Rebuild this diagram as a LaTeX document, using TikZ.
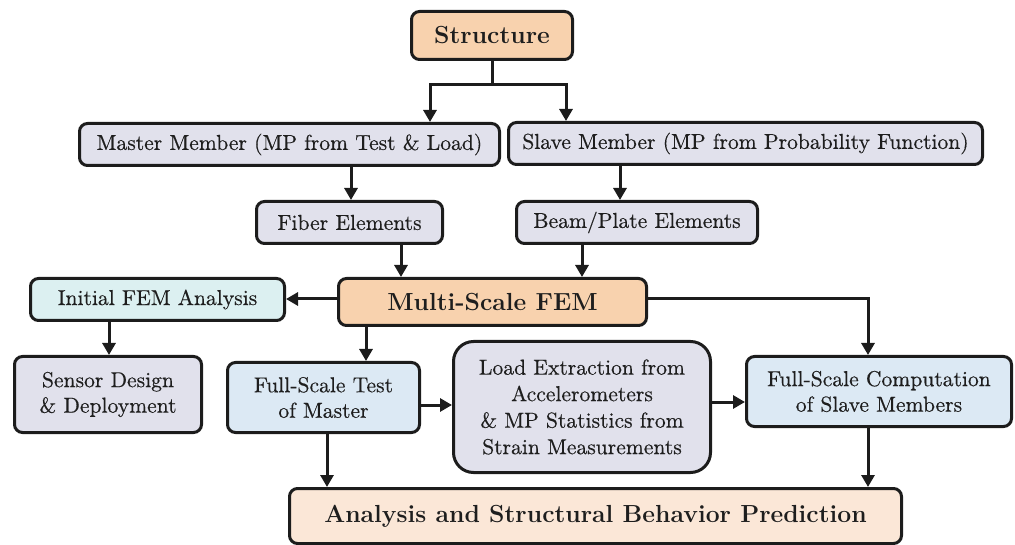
\documentclass[tikz,border=0pt]{standalone}
\usepackage{fontspec}
\newfontfamily\regfont{lmroman10-regular}[Extension=.otf, FakeBold=0.4]
\usetikzlibrary{arrows.meta,calc}
\definecolor{peach}{HTML}{F8D2AE}
\definecolor{peachlt}{HTML}{FBE7D7}
\definecolor{lav}{HTML}{E1E1EC}
\definecolor{cyanlt}{HTML}{DCF0F1}
\definecolor{bluelt}{HTML}{DCE9F4}
\definecolor{edge}{HTML}{1C1C1C}
\definecolor{txt}{HTML}{1E1E1E}
\tikzset{
  box/.style={draw=edge, line width=3pt, rounded corners=8pt, inner sep=0pt, align=center, text=txt, font=\regfont\fontsize{21.6}{25.5}\selectfont},
  boldbox/.style={box, font=\fontsize{24.7}{30}\selectfont\bfseries},
  arr/.style={draw=edge, line width=3pt, -{Triangle[length=12pt,width=13pt]}},
}
\begin{document}
\begin{tikzpicture}[x=1pt,y=-1pt]
\useasboundingbox (0,0) rectangle (1015,545);
% nodes
\node[boldbox, fill=peach, minimum width=161pt, minimum height=48pt] (S) at (492,35.5) {Structure};
\node[box, fill=lav, minimum width=420pt, minimum height=42pt] (M) at (289.5,144.5) {Master Member (MP from Test \& Load)};
\node[box, fill=lav, minimum width=474pt, minimum height=42pt] (SL) at (745.5,143.5) {Slave Member (MP from Probability Function)};
\node[box, fill=lav, minimum width=186pt, minimum height=42pt] (F) at (349.5,222.5) {Fiber Elements};
\node[box, fill=lav, minimum width=241pt, minimum height=42pt] (B) at (637,222.5) {Beam/Plate Elements};
\node[boldbox, fill=peach, minimum width=308pt, minimum height=47pt] (MS) at (492.5,302) {Multi-Scale FEM};
\node[box, fill=cyanlt, minimum width=254pt, minimum height=42pt] (I) at (157.5,299.5) {Initial FEM Analysis};
\node[box, fill=lav, minimum width=187pt, minimum height=76pt] (SE) at (108,394.5) {Sensor Design\\\& Deployment};
\node[box, fill=bluelt, minimum width=192pt, minimum height=70pt] (FT) at (323.5,397.5) {Full-Scale Test\\of Master};
\node[box, fill=lav, rounded corners=20pt, minimum width=257pt, minimum height=131pt, font=\regfont\fontsize{21.6}{26.5}\selectfont] (L) at (582,407) {Load Extraction from\\Accelerometers\\\& MP Statistics from\\Strain Measurements};
\node[box, fill=bluelt, minimum width=265pt, minimum height=70pt] (FC) at (879,391.5) {Full-Scale Computation\\of Slave Members};
\node[boldbox, fill=peachlt, minimum width=612pt, minimum height=55pt] (A) at (595.5,516) {Analysis and Structural Behavior Prediction};
% helper coordinates
\coordinate (j) at (492,85);
\coordinate (x430) at (430,0);
\coordinate (x566) at (566,0);
\coordinate (x351) at (351,0);
\coordinate (x620) at (620,0);
\coordinate (x401) at (401,0);
\coordinate (x582) at (582,0);
\coordinate (x366) at (366,0);
\coordinate (x327) at (327,0);
\coordinate (x868) at (868,0);
\coordinate (x109) at (109,0);
\coordinate (y299) at (0,299);
\coordinate (y405) at (0,405);
\coordinate (y402) at (0,402);
% connectors
\draw[draw=edge, line width=3pt] (S.south) -- (j);
\draw[arr] (j) -| (M.north -| x430);
\draw[arr] (j) -| (SL.north -| x566);
\draw[arr] (M.south -| x351) -- (F.north -| x351);
\draw[arr] (SL.south -| x620) -- (B.north -| x620);
\draw[arr] (F.south -| x401) -- (MS.north -| x401);
\draw[arr] (B.south -| x582) -- (MS.north -| x582);
\draw[arr] (MS.west |- y299) -- (I.east |- y299);
\draw[arr] (I.south -| x109) -- (SE.north -| x109);
\draw[arr] (MS.south -| x366) -- (FT.north -| x366);
\draw[arr] (FT.east |- y405) -- (L.west |- y405);
\draw[arr] (L.east |- y402) -- (FC.west |- y402);
\draw[arr] (MS.east |- y299) -| (FC.north -| x868);
\draw[arr] (FT.south -| x327) -- (A.north -| x327);
\draw[arr] (FC.south -| x868) -- (A.north -| x868);
\end{tikzpicture}
\end{document}
